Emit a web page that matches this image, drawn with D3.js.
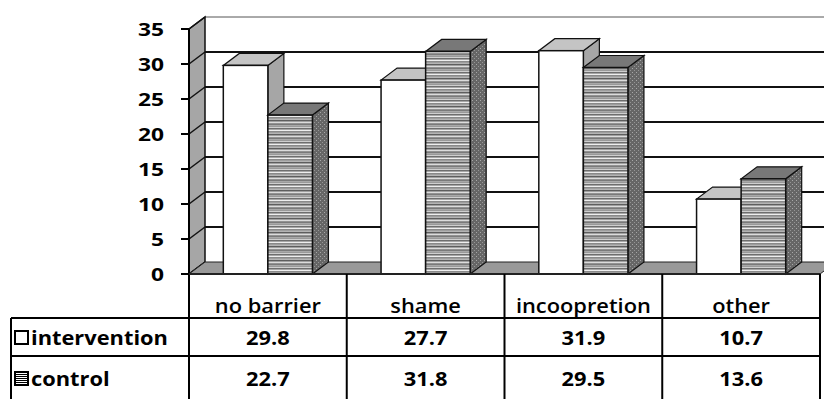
<!DOCTYPE html>
<html>
<head>
<meta charset="utf-8">
<script src="https://cdn.jsdelivr.net/npm/d3@7"></script>
<style>
  html, body { margin: 0; padding: 0; background: #fff; }
  svg { display: block; }
  text { font-family: "Open Sans", "DejaVu Sans", sans-serif; fill: #000; }
</style>
</head>
<body>
<svg id="chart" width="824" height="399"></svg>
<script>
// Barriers by group (%)
const categories = ["no barrier", "shame", "incoopretion", "other"];
const series = ["intervention", "control"];
const interventionValues = [29.8, 27.7, 31.9, 10.7];
const controlValues = [22.7, 31.8, 29.5, 13.6];
const yTicks = [0, 5, 10, 15, 20, 25, 30, 35];

const values = { intervention: interventionValues, control: controlValues };

const W = 824, H = 399;
const svg = d3.select("#chart");

// plot frame
const x0 = 189, x1 = 820;
const yTop = 29, yBase = 274;
const DX = 16, DY = -12; // depth offset of the 3D walls and bars

const y = d3.scaleLinear().domain([0, 35]).range([yBase, yTop]);
const xCat = d3.scaleBand().domain(categories).range([x0, x1]).padding(0);
const xSer = d3.scaleBand().domain(series).range([0, xCat.bandwidth()])
  .paddingInner(0).paddingOuter(0.77);

// ---------- patterns ----------
const defs = svg.append("defs");
const stripe = defs.append("pattern").attr("id", "stripes")
  .attr("patternUnits", "userSpaceOnUse").attr("width", 8).attr("height", 14);
const stripeColors = ["#9a9a9a", "#cfcfcf", "#6e6e6e", "#a6a6a6", "#eeeeee", "#8a8a8a", "#9e9e9e",
                      "#b4b4b4", "#5e5e5e", "#a0a0a0", "#dcdcdc", "#929292", "#7a7a7a", "#a8a8a8"];
stripeColors.forEach((c, i) => {
  stripe.append("rect").attr("x", 0).attr("y", i).attr("width", 8).attr("height", 1).attr("fill", c);
});
const dots = defs.append("pattern").attr("id", "dots")
  .attr("patternUnits", "userSpaceOnUse").attr("width", 4).attr("height", 4);
dots.append("rect").attr("width", 4).attr("height", 4).attr("fill", "#666");
dots.append("rect").attr("x", 0).attr("y", 0).attr("width", 1).attr("height", 1).attr("fill", "#a8a8a8");
dots.append("rect").attr("x", 2).attr("y", 2).attr("width", 1).attr("height", 1).attr("fill", "#959595");

const keyStripe = defs.append("pattern").attr("id", "keystripes")
  .attr("patternUnits", "userSpaceOnUse").attr("width", 4).attr("height", 2);
keyStripe.append("rect").attr("width", 4).attr("height", 1).attr("fill", "#000");
keyStripe.append("rect").attr("y", 1).attr("width", 4).attr("height", 1).attr("fill", "#fff");

const poly = pts => "M" + pts.map(p => p.join(",")).join("L") + "Z";

// ---------- walls ----------
const g = svg.append("g");
// back wall
g.append("path")
  .attr("d", poly([[x0 + DX, y(35) + DY], [W + 20, y(35) + DY], [W + 20, y(0) + DY], [x0 + DX, y(0) + DY]]))
  .attr("fill", "#fff");
// top edge of the back wall
g.append("line").attr("x1", x0 + DX).attr("x2", W).attr("y1", y(35) + DY).attr("y2", y(35) + DY)
  .attr("stroke", "#555").attr("stroke-width", 1);
// gridlines on back wall
g.selectAll(".grid").data(yTicks.filter(t => t > 0 && t < 35)).join("line")
  .attr("x1", x0 + DX).attr("x2", W)
  .attr("y1", d => y(d) + DY).attr("y2", d => y(d) + DY)
  .attr("stroke", "#111").attr("stroke-width", 2);

// left side wall
g.append("path")
  .attr("d", poly([[x0, y(35)], [x0 + DX, y(35) + DY], [x0 + DX, y(0) + DY], [x0, y(0)]]))
  .attr("fill", "#a6a6a6").attr("stroke", "#111").attr("stroke-width", 1.5);
g.selectAll(".diag").data(yTicks).join("line")
  .attr("x1", x0).attr("y1", d => y(d))
  .attr("x2", x0 + DX).attr("y2", d => y(d) + DY)
  .attr("stroke", "#111").attr("stroke-width", 1.5);

// floor
g.append("path")
  .attr("d", poly([[x0, y(0)], [x0 + DX, y(0) + DY], [x1 + DX, y(0) + DY], [x1, y(0)]]))
  .attr("fill", "#999").attr("stroke", "#222").attr("stroke-width", 1);

// ---------- bars ----------
const style = {
  intervention: { front: "#ffffff", top: "#c4c4c4", side: "#a6a6a6" },
  control: { front: "url(#stripes)", top: "#787878", side: "url(#dots)" }
};
const bars = [];
categories.forEach((c, i) => {
  series.forEach(s => {
    bars.push({ cat: c, ser: s, v: values[s][i] });
  });
});
const bg = svg.append("g");
bars.forEach(b => {
  const bx0 = xCat(b.cat) + xSer(b.ser);
  const bx1 = bx0 + xSer.bandwidth();
  const yt = y(b.v), yb = y(0);
  const st = style[b.ser];
  const grp = bg.append("g");
  grp.append("path")
    .attr("d", poly([[bx1, yt], [bx1 + DX, yt + DY], [bx1 + DX, yb + DY], [bx1, yb]]))
    .attr("fill", st.side).attr("stroke", "#111").attr("stroke-width", 1.2);
  grp.append("path")
    .attr("d", poly([[bx0, yt], [bx1, yt], [bx1 + DX, yt + DY], [bx0 + DX, yt + DY]]))
    .attr("fill", st.top).attr("stroke", "#111").attr("stroke-width", 1.2);
  grp.append("rect")
    .attr("x", bx0).attr("y", yt).attr("width", bx1 - bx0).attr("height", yb - yt)
    .attr("fill", st.front).attr("stroke", "#111").attr("stroke-width", 1.5);
});

// ---------- axes ----------
const ax = svg.append("g");
ax.append("line").attr("x1", x0).attr("x2", x0).attr("y1", y(35)).attr("y2", H)
  .attr("stroke", "#000").attr("stroke-width", 2);
ax.append("line").attr("x1", x0).attr("x2", x1).attr("y1", y(0)).attr("y2", y(0))
  .attr("stroke", "#222").attr("stroke-width", 2);
ax.selectAll(".tick").data(yTicks).join("line")
  .attr("x1", x0 - 8).attr("x2", x0).attr("y1", d => y(d)).attr("y2", d => y(d))
  .attr("stroke", "#000").attr("stroke-width", 2);

function label(parent, txt, x, yy, anchor, size, weight, sx) {
  return parent.append("text")
    .attr("transform", `translate(${x},${yy}) scale(${sx},1)`)
    .attr("text-anchor", anchor)
    .attr("font-size", size).attr("font-weight", weight)
    .text(txt);
}
yTicks.forEach(t => label(ax, t, 164, y(t) + 6.5, "end", 17.5, 700, 1.3));

// ---------- data table ----------
const tb = svg.append("g");
const rowTop = 318, rowMid = 356;
const tableLeft = 11;
// category boundaries
const bounds = categories.map(c => xCat(c)).concat([x1]);
bounds.slice(1).forEach(bx => {
  tb.append("line").attr("x1", bx).attr("x2", bx).attr("y1", y(0)).attr("y2", H)
    .attr("stroke", "#000").attr("stroke-width", 2);
});
[rowTop, rowMid].forEach(ry => {
  tb.append("line").attr("x1", tableLeft).attr("x2", x1).attr("y1", ry).attr("y2", ry)
    .attr("stroke", "#000").attr("stroke-width", 2);
});
tb.append("line").attr("x1", tableLeft).attr("x2", tableLeft).attr("y1", rowTop).attr("y2", H)
  .attr("stroke", "#000").attr("stroke-width", 2);

categories.forEach(c => {
  label(tb, c, xCat(c) + xCat.bandwidth() / 2, 313, "middle", 19.5, 600, 1.12);
});
const rowBase = { intervention: 345, control: 386 };
series.forEach(s => {
  values[s].forEach((v, i) => {
    label(tb, v.toFixed(1), xCat(categories[i]) + xCat.bandwidth() / 2, rowBase[s], "middle", 19.5, 700, 1.12);
  });
  // legend key
  tb.append("rect").attr("x", 15).attr("y", rowBase[s] - 14).attr("width", 13).attr("height", 13)
    .attr("fill", s === "intervention" ? "#fff" : "url(#keystripes)")
    .attr("stroke", "#000").attr("stroke-width", 2);
  label(tb, s, 31, rowBase[s], "start", 19.5, 700, 1.12);
});
</script>
</body>
</html>
